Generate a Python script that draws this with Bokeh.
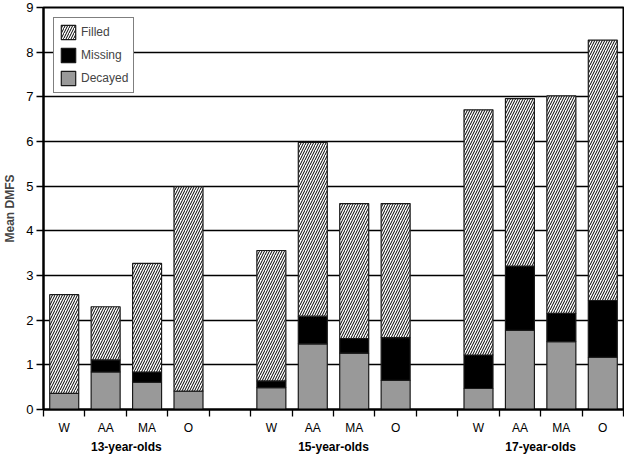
from bokeh.plotting import figure
from bokeh.models import (Range1d, FixedTicker, LinearAxis, Legend, LegendItem,
                          ColumnDataSource)
from bokeh.embed import file_html
from bokeh.resources import INLINE

# ---- data ----
groups = ["13-year-olds", "15-year-olds", "17-year-olds"]
ethnicities = ["W", "AA", "MA", "O"]
decayed = [0.36, 0.84, 0.61, 0.41, 0.49, 1.47, 1.26, 0.65, 0.47, 1.77, 1.52, 1.17]
missing = [0.00, 0.27, 0.23, 0.00, 0.15, 0.62, 0.33, 0.96, 0.75, 1.44, 0.63, 1.27]
filled = [2.21, 1.19, 2.43, 4.58, 2.92, 3.89, 3.02, 3.00, 5.49, 3.75, 4.87, 5.83]
y_ticks = [0, 1, 2, 3, 4, 5, 6, 7, 8, 9]

FONT = "Liberation Sans"

# x positions (doubled units: each slot is 2 wide, a gap slot between groups)
xs, labels = [], []
for g in range(len(groups)):
    for e, eth in enumerate(ethnicities):
        xs.append(g * 10 + e * 2 + 1)
        labels.append(eth)
boundaries = list(range(0, 29, 2))
group_centers = [g * 10 + 4 for g in range(len(groups))]

src = ColumnDataSource(dict(x=xs, decayed=decayed, missing=missing, filled=filled))

p = figure(width=624, height=456, output_backend="svg", toolbar_location=None,
           x_range=Range1d(0, 28), y_range=Range1d(0, 9),
           min_border_left=34, min_border_right=1, min_border_top=7,
           min_border_bottom=40, x_axis_location="below")
p.background_fill_color = "white"
p.border_fill_color = "white"
p.outline_line_color = "black"
p.outline_line_width = 2

p.xgrid.visible = False
p.ygrid.ticker = FixedTicker(ticks=y_ticks)
p.ygrid.grid_line_color = "black"
p.ygrid.grid_line_width = 1.3

rs = p.vbar_stack(["decayed", "missing", "filled"], x="x", width=1.4, source=src,
                  fill_color=["#999999", "black", "white"],
                  line_color="#1a1a1a", line_width=1.2)
rs[2].glyph.hatch_pattern = "/"
rs[2].glyph.hatch_color = "black"
rs[2].glyph.hatch_scale = 5
rs[2].glyph.hatch_weight = 1

# y axis
ya = p.yaxis[0]
ya.ticker = FixedTicker(ticks=y_ticks)
ya.axis_label = "Mean DMFS"
ya.axis_label_text_font = FONT
ya.axis_label_text_font_style = "bold"
ya.axis_label_text_font_size = "12px"
ya.axis_label_standoff = 6
ya.major_label_text_font = FONT
ya.major_label_text_font_size = "13px"
ya.major_label_text_color = "black"
ya.major_label_standoff = 3
ya.major_tick_out = 7
ya.major_tick_in = 0
ya.minor_tick_line_color = None
ya.axis_line_width = 2
ya.major_tick_line_width = 1.3

# x axis: category labels at centres, minor ticks at slot boundaries
xa = p.xaxis[0]
xa.ticker = FixedTicker(ticks=xs, minor_ticks=boundaries)
xa.major_label_overrides = {x: l for x, l in zip(xs, labels)}
xa.major_label_text_font = FONT
xa.major_label_text_font_size = "12px"
xa.major_label_text_color = "black"
xa.major_label_standoff = 4
xa.major_tick_out = 0
xa.major_tick_in = 0
xa.major_tick_line_color = None
xa.minor_tick_out = 7
xa.minor_tick_in = 0
xa.minor_tick_line_color = "black"
xa.minor_tick_line_width = 1.3
xa.axis_line_width = 2

# group labels axis
ga = LinearAxis(ticker=FixedTicker(ticks=group_centers))
ga.major_label_overrides = {x: l for x, l in zip(group_centers, groups)}
ga.major_label_text_font = FONT
ga.major_label_text_font_style = "bold"
ga.major_label_text_font_size = "12px"
ga.major_label_text_color = "black"
ga.major_label_standoff = 2
ga.axis_line_color = None
ga.major_tick_line_color = None
ga.minor_tick_line_color = None
ga.major_tick_out = 0
ga.major_tick_in = 0
p.add_layout(ga, "below")

legend = Legend(items=[LegendItem(label="Filled", renderers=[rs[2]]),
                       LegendItem(label="Missing", renderers=[rs[1]]),
                       LegendItem(label="Decayed", renderers=[rs[0]])],
                location="top_left", margin=10, padding=5, spacing=5,
                glyph_width=18, glyph_height=18, label_standoff=4,
                label_text_font=FONT, label_text_font_size="12px",
                label_height=18,
                border_line_color="black", border_line_width=1,
                background_fill_color="white", background_fill_alpha=1)
p.add_layout(legend)

open("out.html", "w").write(file_html(p, INLINE))
